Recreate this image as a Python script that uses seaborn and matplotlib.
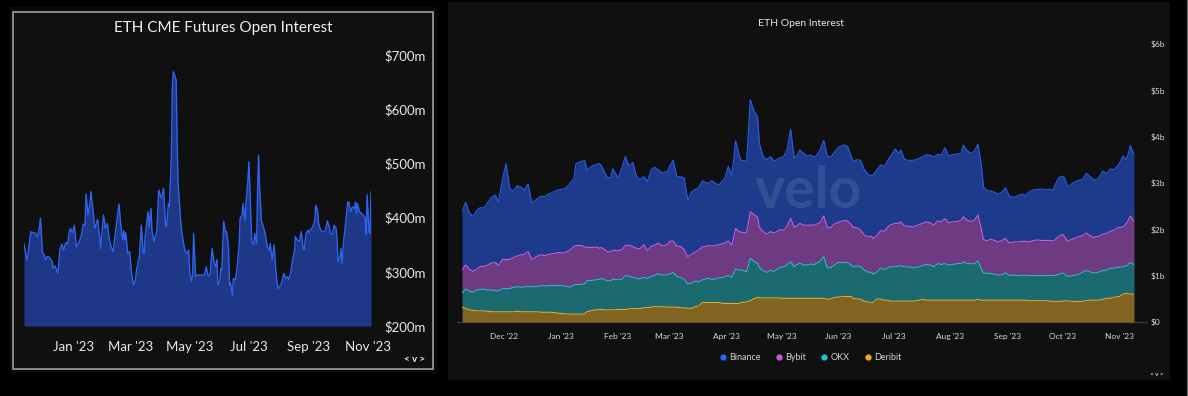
import numpy as np
import pandas as pd
import matplotlib
matplotlib.use("Agg")
import matplotlib.pyplot as plt
import seaborn as sns
from matplotlib.patches import Rectangle
from matplotlib.lines import Line2D

# ---------------- data: ETH CME futures open interest ($m) ----------------
cme_start = "2022-11-11"
cme_day = [0, 3, 4, 7, 10, 12, 14, 16, 17, 19, 21, 22, 24, 26, 29, 30, 32, 35, 37, 39,
           41, 43, 45, 47, 48, 50, 52, 54, 56, 59, 61, 63, 64, 66, 68, 69, 71, 73, 76, 78,
           79, 81, 82, 84, 86, 88, 90, 92, 95, 98, 100, 102, 103, 104, 105, 107, 109, 111, 113, 115,
           116, 119, 121, 123, 124, 125, 128, 129, 131, 132, 134, 136, 137, 139, 141, 142, 144, 146, 147, 149,
           150, 152, 153, 154, 157, 158, 159, 161, 162, 164, 166, 168, 170, 171, 173, 174, 175, 177, 179, 182,
           184, 186, 188, 190, 192, 194, 196, 198, 199, 200, 202, 203, 204, 206, 208, 209, 211, 212, 213, 215,
           216, 218, 220, 222, 223, 225, 226, 228, 229, 231, 232, 233, 234, 235, 237, 238, 240, 241, 242, 243,
           245, 247, 249, 251, 253, 254, 256, 258, 259, 260, 262, 265, 267, 268, 270, 272, 273, 275, 277, 279,
           280, 282, 284, 286, 288, 289, 291, 293, 294, 296, 298, 300, 301, 303, 304, 306, 308, 310, 311, 313,
           315, 316, 318, 320, 322, 323, 324, 326, 327, 328, 330, 332, 334, 335, 337, 339, 341, 342, 343, 344,
           346, 348, 350, 352, 353, 354, 356, 357, 358]
cme_oi = [352, 322, 331, 374, 372, 371, 364, 383, 399, 336, 331, 322, 328, 327, 319, 306, 311, 297, 340, 351,
          340, 354, 351, 377, 380, 372, 386, 346, 352, 365, 388, 386, 444, 405, 426, 448, 417, 380, 397, 365,
          343, 383, 405, 380, 389, 359, 346, 337, 383, 425, 383, 359, 376, 359, 372, 334, 337, 297, 276, 285,
          303, 328, 386, 334, 334, 365, 411, 383, 417, 376, 356, 369, 375, 451, 439, 436, 454, 386, 383, 426,
          420, 512, 638, 669, 654, 537, 463, 408, 383, 359, 340, 334, 340, 297, 282, 297, 371, 291, 294, 294,
          294, 294, 309, 292, 294, 343, 319, 309, 322, 276, 282, 306, 303, 393, 372, 374, 346, 276, 280, 257,
          288, 285, 309, 351, 399, 405, 426, 394, 426, 469, 503, 457, 402, 356, 350, 371, 352, 451, 515, 457,
          394, 383, 369, 346, 340, 352, 322, 350, 322, 297, 269, 276, 288, 297, 288, 291, 285, 297, 322, 337,
          365, 359, 356, 374, 343, 341, 371, 377, 372, 378, 383, 394, 423, 411, 389, 377, 374, 374, 377, 394,
          383, 371, 369, 386, 380, 359, 319, 328, 343, 315, 361, 393, 429, 429, 411, 420, 417, 429, 408, 426,
          411, 408, 405, 399, 368, 442, 374, 371, 448]
cme_ticks = ["2023-01-01", "2023-03-01", "2023-05-01", "2023-07-01", "2023-09-01", "2023-11-01"]
cme_yticks = [200, 300, 400, 500, 600, 700]

# ---------------- data: ETH open interest by exchange ($b) ----------------
oi_start = "2022-11-08"
oi_day = [0, 2, 4, 6, 8, 10, 12, 14, 16, 18, 20, 22, 24, 26, 28, 30, 32, 34, 36, 38,
          41, 43, 45, 47, 49, 51, 52, 55, 56, 59, 61, 62, 65, 67, 68, 71, 73, 75, 76, 79,
          81, 82, 85, 87, 89, 91, 93, 95, 97, 99, 101, 103, 105, 107, 109, 112, 113, 115, 117, 119,
          121, 122, 123,
          125, 127, 129, 131, 132, 134, 136, 138, 140, 142, 143, 145, 147, 149, 151, 152, 155, 157, 159, 161,
          162, 164, 166, 168, 170, 172, 173, 175, 177, 179, 181, 182, 184, 186, 188, 190, 192, 193, 195, 197,
          199, 201, 203, 205, 208, 210, 212, 213, 215, 217, 219, 221, 223, 224, 226, 228, 230, 232, 233, 236,
          238, 239, 241, 243, 246,
          249, 251, 253, 255, 257, 259, 261, 263, 265, 267, 270, 272, 273, 275, 277, 279, 281, 283, 284, 286,
          288, 290, 292, 294, 296, 298, 300, 301, 303, 305, 307, 309, 311, 313, 316, 318, 320, 322, 323, 325,
          327, 328, 330, 332, 334, 336, 338, 340, 342, 344, 345, 347, 349, 351, 353, 355, 357, 358, 360, 362,
          364, 365, 366]
binance = [1.26, 1.35, 1.22, 1.19, 1.27, 1.27, 1.26, 1.35, 1.42, 1.45, 1.38, 1.73, 2.07, 1.53, 1.44, 1.52, 1.46, 1.39, 1.46, 1.22,
           1.24, 1.27, 1.27, 1.30, 1.32, 1.35, 1.35, 1.38, 1.38, 1.44, 1.47, 1.76, 1.82, 1.86, 1.67, 1.76, 1.78, 1.83, 1.76, 1.60,
           1.60, 1.76, 1.57, 1.75, 1.92, 1.71, 1.81, 1.55, 1.49, 1.47, 1.49, 1.65, 1.68, 1.58, 1.58, 1.58, 1.62, 1.74, 1.50, 1.50,
           1.54, 1.37, 1.22,
           1.35, 1.35, 1.35, 1.42, 1.40, 1.34, 1.41, 1.34, 1.29, 1.37, 1.38, 1.61, 1.51, 1.89, 1.65, 1.55, 1.55, 2.42, 2.23, 2.17,
           1.81, 1.62, 1.60, 1.62, 1.55, 1.56, 1.55, 1.58, 1.65, 1.92, 1.49, 1.51, 1.58, 1.55, 1.49, 1.51, 1.47, 1.48, 1.57, 1.63,
           1.53, 1.53, 1.55, 1.62, 1.63, 1.61, 1.47, 1.42, 1.46, 1.50, 1.42, 1.35, 1.31, 1.37, 1.42, 1.42, 1.40, 1.44, 1.47, 1.60,
           1.51, 1.55, 1.44, 1.42, 1.44,
           1.43, 1.44, 1.45, 1.46, 1.47, 1.44, 1.44, 1.53, 1.44, 1.45, 1.46, 1.44, 1.55, 1.50, 1.47, 1.49, 1.53, 1.37, 1.14, 1.08,
           1.04, 1.04, 1.03, 1.04, 1.10, 1.01, 0.97, 0.97, 1.00, 1.02, 0.99, 1.08, 1.09, 1.09, 1.11, 1.09, 1.11, 1.09, 1.19, 1.27,
           1.26, 1.27, 1.17, 1.20, 1.22, 1.22, 1.22, 1.29, 1.28, 1.25, 1.22, 1.27, 1.36, 1.29, 1.35, 1.31, 1.33, 1.38, 1.53, 1.37,
           1.53, 1.47, 1.45]
bybit = [0.50, 0.52, 0.47, 0.45, 0.45, 0.50, 0.49, 0.54, 0.58, 0.61, 0.55, 0.63, 0.63, 0.63, 0.64, 0.66, 0.70, 0.70, 0.76, 0.59,
         0.65, 0.67, 0.65, 0.68, 0.68, 0.70, 0.71, 0.71, 0.71, 0.81, 0.83, 0.84, 0.84, 0.79, 0.72, 0.71, 0.71, 0.67, 0.67, 0.63,
         0.62, 0.63, 0.63, 0.64, 0.65, 0.67, 0.67, 0.65, 0.65, 0.71, 0.60, 0.65, 0.65, 0.66, 0.63, 0.65, 0.71, 0.68, 0.66, 0.67,
         0.65, 0.61, 0.59,
         0.62, 0.63, 0.68, 0.72, 0.70, 0.71, 0.72, 0.72, 0.72, 0.73, 0.72, 0.75, 0.70, 0.88, 0.83, 0.81, 0.84, 1.01, 1.01, 0.99,
         0.87, 0.84, 0.83, 0.83, 0.83, 0.81, 0.81, 0.79, 0.83, 0.94, 0.85, 0.83, 0.86, 0.86, 0.86, 0.84, 0.85, 0.84, 0.84, 0.88,
         0.87, 0.86, 0.89, 0.86, 0.91, 0.90, 0.87, 0.85, 0.83, 0.79, 0.76, 0.76, 0.78, 0.77, 0.79, 0.81, 0.83, 0.88, 0.90, 0.94,
         0.92, 0.95, 0.88, 0.88, 0.88,
         0.91, 0.91, 0.92, 0.91, 0.90, 0.92, 0.92, 0.97, 0.91, 0.92, 0.91, 0.94, 0.97, 0.94, 0.91, 0.94, 0.99, 0.85, 0.72, 0.70,
         0.74, 0.73, 0.72, 0.74, 0.74, 0.70, 0.71, 0.72, 0.73, 0.73, 0.73, 0.73, 0.76, 0.77, 0.76, 0.76, 0.76, 0.74, 0.77, 0.81,
         0.83, 0.81, 0.76, 0.78, 0.80, 0.81, 0.79, 0.81, 0.78, 0.76, 0.78, 0.77, 0.79, 0.79, 0.79, 0.82, 0.85, 0.86, 0.86, 0.92,
         1.00, 0.97, 0.94]
okx = [0.30, 0.42, 0.41, 0.39, 0.45, 0.46, 0.47, 0.46, 0.47, 0.46, 0.45, 0.50, 0.50, 0.50, 0.53, 0.53, 0.53, 0.54, 0.54, 0.54,
       0.55, 0.57, 0.57, 0.57, 0.58, 0.58, 0.60, 0.60, 0.60, 0.58, 0.63, 0.64, 0.64, 0.65, 0.67, 0.65, 0.65, 0.65, 0.67, 0.63,
       0.63, 0.66, 0.64, 0.65, 0.73, 0.71, 0.67, 0.65, 0.64, 0.65, 0.63, 0.66, 0.68, 0.71, 0.68, 0.70, 0.71, 0.75, 0.66, 0.65,
       0.62, 0.57, 0.52,
       0.55, 0.55, 0.52, 0.49, 0.50, 0.52, 0.50, 0.51, 0.53, 0.56, 0.58, 0.60, 0.56, 0.74, 0.72, 0.71, 0.65, 0.91, 0.81, 0.74,
       0.65, 0.59, 0.55, 0.60, 0.57, 0.63, 0.66, 0.68, 0.72, 0.79, 0.68, 0.72, 0.76, 0.72, 0.72, 0.74, 0.73, 0.76, 0.79, 0.90,
       0.68, 0.68, 0.70, 0.75, 0.73, 0.73, 0.68, 0.68, 0.71, 0.71, 0.67, 0.65, 0.65, 0.61, 0.58, 0.67, 0.66, 0.70, 0.74, 0.74,
       0.76, 0.76, 0.74, 0.74, 0.72,
       0.72, 0.73, 0.77, 0.76, 0.72, 0.79, 0.77, 0.79, 0.76, 0.77, 0.79, 0.79, 0.83, 0.79, 0.79, 0.78, 0.83, 0.66, 0.59, 0.58,
       0.58, 0.56, 0.54, 0.55, 0.59, 0.54, 0.54, 0.54, 0.53, 0.54, 0.54, 0.54, 0.54, 0.54, 0.54, 0.54, 0.55, 0.56, 0.56, 0.59,
       0.61, 0.58, 0.53, 0.55, 0.57, 0.59, 0.62, 0.65, 0.61, 0.59, 0.59, 0.61, 0.62, 0.61, 0.65, 0.63, 0.63, 0.63, 0.59, 0.59,
       0.68, 0.67, 0.63]
deribit = [0.32, 0.29, 0.26, 0.25, 0.24, 0.24, 0.24, 0.23, 0.22, 0.22, 0.22, 0.22, 0.22, 0.22, 0.22, 0.23, 0.22, 0.22, 0.22, 0.22,
           0.22, 0.21, 0.21, 0.21, 0.21, 0.20, 0.19, 0.18, 0.18, 0.17, 0.17, 0.17, 0.17, 0.18, 0.22, 0.25, 0.26, 0.27, 0.27, 0.26,
           0.26, 0.26, 0.27, 0.27, 0.27, 0.28, 0.29, 0.29, 0.29, 0.31, 0.31, 0.32, 0.33, 0.33, 0.33, 0.32, 0.32, 0.32, 0.32, 0.31,
           0.30, 0.30, 0.30,
           0.29, 0.33, 0.35, 0.42, 0.42, 0.42, 0.42, 0.42, 0.42, 0.40, 0.40, 0.40, 0.40, 0.40, 0.40, 0.42, 0.43, 0.46, 0.50, 0.53,
           0.52, 0.52, 0.52, 0.52, 0.52, 0.52, 0.52, 0.51, 0.51, 0.51, 0.51, 0.51, 0.51, 0.51, 0.51, 0.51, 0.51, 0.51, 0.51, 0.51,
           0.49, 0.50, 0.53, 0.54, 0.55, 0.55, 0.55, 0.51, 0.50, 0.49, 0.45, 0.43, 0.42, 0.42, 0.50, 0.49, 0.47, 0.47, 0.45, 0.45,
           0.45, 0.45, 0.45, 0.45, 0.45,
           0.47, 0.49, 0.47, 0.47, 0.47, 0.47, 0.47, 0.47, 0.47, 0.47, 0.47, 0.47, 0.47, 0.47, 0.47, 0.47, 0.49, 0.47, 0.47, 0.47,
           0.47, 0.47, 0.47, 0.47, 0.47, 0.47, 0.47, 0.47, 0.47, 0.47, 0.47, 0.46, 0.46, 0.46, 0.46, 0.46, 0.45, 0.45, 0.44, 0.44,
           0.45, 0.46, 0.45, 0.45, 0.44, 0.44, 0.45, 0.46, 0.47, 0.47, 0.47, 0.47, 0.49, 0.51, 0.51, 0.53, 0.55, 0.55, 0.60, 0.62,
           0.60, 0.60, 0.60]
exchanges = ["Binance", "Bybit", "OKX", "Deribit"]
oi_ticks = ["2022-12-01", "2023-01-01", "2023-02-01", "2023-03-01", "2023-04-01", "2023-05-01",
            "2023-06-01", "2023-07-01", "2023-08-01", "2023-09-01", "2023-10-01", "2023-11-01"]
oi_yticks = [0, 1, 2, 3, 4, 5, 6]

# ---------------- styling ----------------
sns.set_theme(style="dark")
plt.rcParams["font.family"] = ["Lato", "DejaVu Sans"]
plt.rcParams["axes.grid"] = False

W, H = 1188, 396
fig = plt.figure(figsize=(W / 100, H / 100), dpi=100, facecolor="black")


def box(x0, y0, x1, y1):
    return [x0 / W, 1 - y1 / H, (x1 - x0) / W, (y1 - y0) / H]


def rect(x0, y0, x1, y1, **kw):
    fig.patches.append(Rectangle((x0 / W, 1 - y1 / H), (x1 - x0) / W, (y1 - y0) / H,
                                 transform=fig.transFigure, zorder=-10, **kw))


rect(10, 7, 437, 373, facecolor="#0a0a0a", edgecolor="none")
rect(13, 12, 433, 369, facecolor="#101010", edgecolor="#8a8a8a", linewidth=1.4)
rect(448, 2, 1170, 380, facecolor="#101010", edgecolor="none")
fig.lines.append(Line2D([1187 / W, 1187 / W], [0, 1], transform=fig.transFigure,
                        color="#5a5a5a", lw=1.0, zorder=-10))

# ---------------- left: CME ----------------
ax1 = fig.add_axes(box(24, 55, 371, 326))
ax1.set_zorder(2)
ax1.set_facecolor("none")
d1 = pd.DataFrame({"date": pd.Timestamp(cme_start) + pd.to_timedelta(cme_day, unit="D"),
                   "oi": cme_oi})
ax1.fill_between(d1["date"], 200, d1["oi"], color="#1e3786", lw=0)
sns.lineplot(data=d1, x="date", y="oi", ax=ax1, color="#2c63f0", lw=1.0)
ax1.set_xlim(d1["date"].iloc[0], d1["date"].iloc[-1])
ax1.set_ylim(200, 700)
ax1.yaxis.tick_right()
ax1.set_yticks(cme_yticks)
ax1.set_yticklabels([f"${v}m" for v in cme_yticks])
t1 = pd.to_datetime(cme_ticks)
ax1.set_xticks(t1)
ax1.set_xticklabels([t.strftime("%b '%y") for t in t1])
ax1.tick_params(axis="y", length=0, pad=10, labelsize=9.5, colors="#e8e8e8")
ax1.tick_params(axis="x", length=0, pad=11, labelsize=9.5, colors="#e8e8e8")
ax1.set_xlabel("")
ax1.set_ylabel("")
for s in ax1.spines.values():
    s.set_visible(False)
fig.text(223 / W, 1 - 28 / H, "ETH CME Futures Open Interest", ha="center", va="center",
         fontsize=11, color="#f0f0f0")
fig.text(415 / W, 1 - 359 / H, "< v >", ha="center", va="center", fontsize=7,
         color="#f0f0f0", fontweight="bold")

# ---------------- right: exchanges ----------------
ax2 = fig.add_axes(box(462, 44, 1134, 322))
ax2.set_zorder(2)
ax2.set_facecolor("none")
dates2 = pd.Timestamp(oi_start) + pd.to_timedelta(oi_day, unit="D")
d2 = pd.DataFrame({"date": dates2, "Binance": binance, "Bybit": bybit,
                   "OKX": okx, "Deribit": deribit})
fills = {"Deribit": "#826422", "OKX": "#1b6a70", "Bybit": "#6e3a82", "Binance": "#1e3a8a"}
lines = {"Deribit": "#e0a92a", "OKX": "#2bbac8", "Bybit": "#c75ee0", "Binance": "#2a5ce6"}
dots = {"Binance": "#2f63f0", "Bybit": "#c458e8", "OKX": "#26c2d4", "Deribit": "#f0aa28"}
lower = np.zeros(len(d2))
for name in ["Deribit", "OKX", "Bybit", "Binance"]:
    upper = lower + d2[name].to_numpy()
    ax2.fill_between(d2["date"], lower, upper, color=fills[name], lw=0)
    sns.lineplot(x=d2["date"], y=upper, ax=ax2, color=lines[name], lw=0.8)
    lower = upper
ax2.set_xlim(dates2[0], dates2[-1])
ax2.set_ylim(0, 6)
ax2.yaxis.tick_right()
ax2.set_yticks(oi_yticks)
ax2.set_yticklabels(["$0"] + [f"${v}b" for v in oi_yticks[1:]])
t2 = pd.to_datetime(oi_ticks)
ax2.set_xticks(t2)
ax2.set_xticklabels([t.strftime("%b '%y") for t in t2])
ax2.tick_params(axis="y", length=0, pad=12, labelsize=6, colors="#d8d8d8")
ax2.tick_params(axis="x", length=0, pad=8, labelsize=6, colors="#d8d8d8")
ax2.set_xlabel("")
ax2.set_ylabel("")
for s in ax2.spines.values():
    s.set_visible(False)
ax2.text(808 / W, 1 - 192 / H, "velo", transform=fig.transFigure, ha="center", va="center",
         fontsize=41, fontweight="bold", color="white", alpha=0.1, zorder=10)
fig.lines.append(Line2D([457 / W, 1147 / W], [1 - 322 / H, 1 - 322 / H],
                        transform=fig.transFigure, color="#3a3a3a", lw=1.0, zorder=-5))
fig.text(801 / W, 1 - 24 / H, "ETH Open Interest", ha="center", va="center",
         fontsize=7.5, color="#e8e8e8")
fig.text(1157 / W, 1 - 374 / H, "< v >", ha="center", va="center", fontsize=4.5,
         color="#d0d0d0", fontweight="bold")

handles = [Line2D([], [], ls="", marker="o", markersize=3.5, color=dots[n]) for n in exchanges]
leg = fig.legend(handles, exchanges, loc="center", bbox_to_anchor=(810 / W, 1 - 358 / H),
                 ncol=4, frameon=False, fontsize=6.5, labelcolor="#d0d0d0",
                 handletextpad=0.2, columnspacing=1.5, handlelength=1.0)

fig.savefig("out.png", dpi=100, facecolor="black")
